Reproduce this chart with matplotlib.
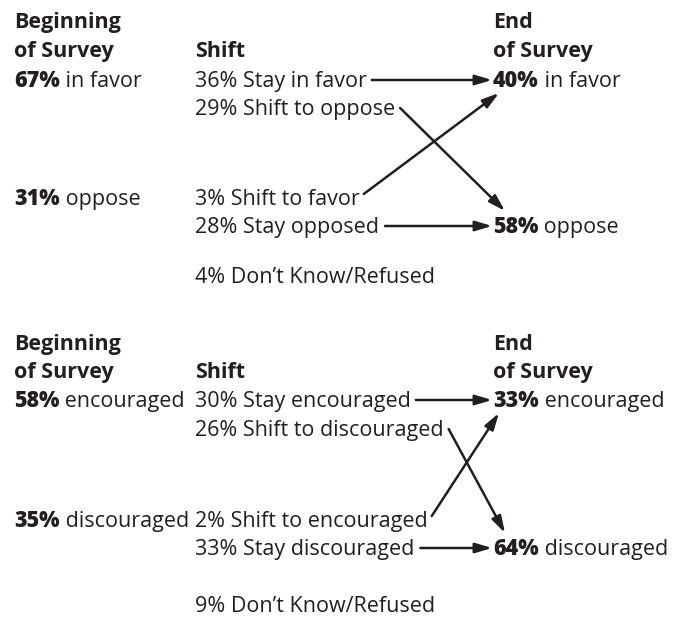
import matplotlib.pyplot as plt

# column headers
begin_head = ["Beginning", "of Survey"]
shift_head = "Shift"
end_head = ["End", "of Survey"]

# panel 1: in favor / oppose
fav_begin = [67, 31]
fav_begin_lbl = ["in favor", "oppose"]
fav_shift = [36, 29, 3, 28]
fav_shift_lbl = ["Stay in favor", "Shift to oppose", "Shift to favor", "Stay opposed"]
fav_end = [40, 58]
fav_end_lbl = ["in favor", "oppose"]
fav_dk = 4

# panel 2: encouraged / discouraged
enc_begin = [58, 35]
enc_begin_lbl = ["encouraged", "discouraged"]
enc_shift = [30, 26, 2, 33]
enc_shift_lbl = ["Stay encouraged", "Shift to discouraged", "Shift to encouraged", "Stay discouraged"]
enc_end = [33, 64]
enc_end_lbl = ["encouraged", "discouraged"]
enc_dk = 9

# layout (pixels): text baselines of each panel
rows_fav = [28, 57, 87, 115, 205, 233, 283]
rows_enc = [350, 378, 407, 436, 527, 555, 612]
x_begin, x_shift, x_end = 14, 195, 493

FONT = "Open Sans"
SIZE = 15.5
INK = "#231f20"

fig = plt.figure(figsize=(6.73, 6.18), dpi=100)
ax = fig.add_axes([0, 0, 1, 1])
ax.set_xlim(0, 673)
ax.set_ylim(618, 0)
ax.axis("off")
renderer = fig.canvas.get_renderer()


def txt(x, y, s, weight="normal"):
    return ax.text(x, y, s, family=FONT, fontsize=SIZE, weight=weight,
                   color=INK, va="baseline", ha="left")


def right_edge(t):
    bb = t.get_window_extent(renderer)
    return ax.transData.inverted().transform((bb.x1, bb.y0))[0]


def pct_label(x, y, pct, lbl):
    t = txt(x, y, f"{pct}%", weight="heavy")
    return txt(right_edge(t), y, " " + lbl)


def arrow(x0, y0, x1, y1):
    ax.annotate("", xy=(x1, y1), xytext=(x0, y0),
                arrowprops=dict(arrowstyle="-|>,head_length=1.0,head_width=0.3",
                                mutation_scale=10, lw=1.8, color=INK,
                                shrinkA=0, shrinkB=0))


def panel(rows, begin, begin_lbl, shift, shift_lbl, end, end_lbl, dk):
    h1, h2, top, top2, bot, bot2, dk_row = rows
    txt(x_begin, h1, begin_head[0], weight="bold")
    txt(x_begin, h2, begin_head[1], weight="bold")
    txt(x_shift, h2, shift_head, weight="bold")
    txt(x_end, h1, end_head[0], weight="bold")
    txt(x_end, h2, end_head[1], weight="bold")

    pct_label(x_begin, top, begin[0], begin_lbl[0])
    pct_label(x_begin, bot, begin[1], begin_lbl[1])

    shift_rows = [top, top2, bot, bot2]
    ends = []
    for v, lbl, r in zip(shift, shift_lbl, shift_rows):
        t = txt(x_shift, r, f"{v}% {lbl}")
        ends.append(right_edge(t))

    pct_label(x_end, top, end[0], end_lbl[0])
    pct_label(x_end, bot2, end[1], end_lbl[1])
    txt(x_shift, dk_row, f"{dk}% Don\u2019t Know/Refused")

    # stay arrows
    arrow(ends[0] + 5, top - 7, x_end - 1, top - 7)
    arrow(ends[3] + 6, bot2 - 7, x_end - 1, bot2 - 7)
    # shift arrows
    arrow(ends[1] + 5, top2 - 7, x_end + 12, bot2 - 22)
    arrow(ends[2] + 4, bot - 11, x_end + 6, top + 6)


panel(rows_fav, fav_begin, fav_begin_lbl, fav_shift, fav_shift_lbl,
      fav_end, fav_end_lbl, fav_dk)
panel(rows_enc, enc_begin, enc_begin_lbl, enc_shift, enc_shift_lbl,
      enc_end, enc_end_lbl, enc_dk)

fig.savefig("out.png", dpi=100, facecolor="white")
